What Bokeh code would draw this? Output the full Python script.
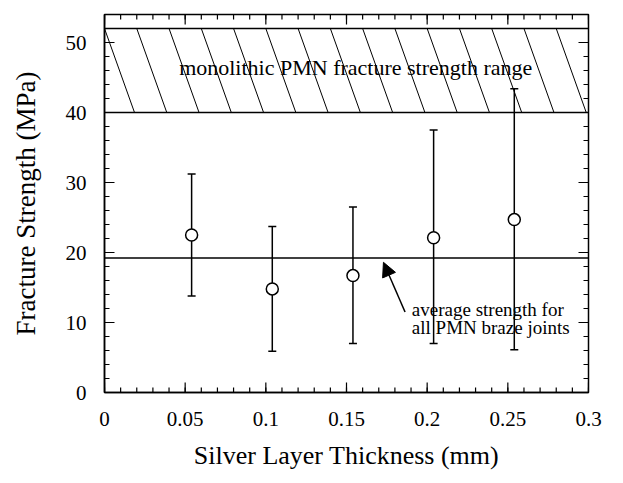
import numpy as np
from bokeh.plotting import figure
from bokeh.models import (Range1d, LinearAxis, Span, Whisker, ColumnDataSource,
                          Arrow, NormalHead, Label, FixedTicker, TeeHead)
from bokeh.core.properties import value
from bokeh.embed import file_html
from bokeh.resources import INLINE

# ---- data ----
thickness = [0.054, 0.104, 0.154, 0.204, 0.254]
strength = [22.5, 14.8, 16.7, 22.1, 24.7]
err_upper = [31.2, 23.7, 26.5, 37.5, 43.4]
err_lower = [13.8, 5.9, 7.0, 7.0, 6.1]
avg_strength = 19.2
mono_low, mono_high = 40.0, 52.0
x_ticks = [0, 0.05, 0.1, 0.15, 0.2, 0.25, 0.3]
y_ticks = [0, 10, 20, 30, 40, 50]
x_minor_step = 0.01
y_minor_step = 2

FONT = "Liberation Serif"
FW, FH = 484, 378
XMAX, YMAX = 0.3, 54

p = figure(frame_width=FW, frame_height=FH, output_backend="svg",
           toolbar_location=None, x_range=Range1d(0, XMAX), y_range=Range1d(0, YMAX),
           min_border_left=104, min_border_right=20, min_border_top=14,
           min_border_bottom=80, x_axis_location=None, y_axis_location=None)
p.background_fill_color = "white"
p.border_fill_color = "white"
p.outline_line_color = "black"
p.outline_line_width = 1.5
p.xgrid.visible = False
p.ygrid.visible = False


def style_axis(ax, ticks):
    ax.ticker = FixedTicker(ticks=ticks)
    ax.major_tick_in = 0
    ax.major_tick_out = 0
    ax.minor_tick_in = 0
    ax.minor_tick_out = 0
    ax.axis_line_color = "black"
    ax.axis_line_width = 1.5
    ax.major_label_text_font = FONT
    ax.major_label_text_font_size = "21px"
    ax.major_label_text_color = "black"
    ax.axis_label_text_font = FONT
    ax.axis_label_text_font_size = "26px"
    ax.axis_label_text_font_style = "normal"
    ax.axis_label_text_color = "black"


xb = LinearAxis(axis_label="Silver Layer Thickness (mm)")
style_axis(xb, x_ticks)
xb.major_label_standoff = 19
xb.axis_label_standoff = 12
xb.major_label_overrides = {0: "0", 0.3: "0.3"}
p.add_layout(xb, "below")

yl = LinearAxis(axis_label="Fracture Strength (MPa)")
style_axis(yl, y_ticks)
yl.major_label_standoff = 18
yl.axis_label_standoff = 22
yl.axis_label_text_font_size = "27px"
p.add_layout(yl, "left")

# ---- tick marks drawn inward on all four sides ----
dx = XMAX / FW   # data units per pixel
dy = YMAX / FH
xmaj = np.array(x_ticks)
xmin_t = np.arange(0, XMAX + 1e-9, x_minor_step)
ymaj = np.array(y_ticks)
ymin_t = np.arange(0, YMAX + 1e-9, y_minor_step)
for pos, L in ((xmaj, 10), (xmin_t, 5)):
    n = len(pos)
    p.segment(x0=pos, y0=[0] * n, x1=pos, y1=[L * dy] * n, line_color="black", line_width=1.2)
    p.segment(x0=pos, y0=[YMAX] * n, x1=pos, y1=[YMAX - L * dy] * n, line_color="black", line_width=1.2)
for pos, L in ((ymaj, 10), (ymin_t, 5)):
    n = len(pos)
    p.segment(x0=[0] * n, y0=pos, x1=[L * dx] * n, y1=pos, line_color="black", line_width=1.2)
    p.segment(x0=[XMAX] * n, y0=pos, x1=[XMAX - L * dx] * n, y1=pos, line_color="black", line_width=1.2)

# monolithic band boundaries
for yv in (mono_low, mono_high):
    p.add_layout(Span(location=yv, dimension="width", line_color="black", line_width=1.5))

# hatch lines in the band
spacing = 0.02
shift = 0.0186
tops = np.arange(0, XMAX, spacing)
p.segment(x0=tops, y0=[mono_high] * len(tops), x1=tops + shift, y1=[mono_low] * len(tops),
          line_color="black", line_width=1.0)

p.text(x=[0.1557], y=[(mono_low + mono_high) / 2 + 0.5],
       text=["monolithic PMN fracture strength range"],
       text_font=value(FONT), text_font_size="22px",
       text_align="center", text_baseline="middle", text_color="black")

# average line
p.add_layout(Span(location=avg_strength, dimension="width", line_color="black", line_width=1.5))

# error bars
src = ColumnDataSource(dict(x=thickness, y=strength, upper=err_upper, lower=err_lower))
w = Whisker(base="x", upper="upper", lower="lower", source=src, line_color="black",
            line_width=1.5,
            upper_head=TeeHead(size=8, line_color="black", line_width=1.5),
            lower_head=TeeHead(size=8, line_color="black", line_width=1.5))
p.add_layout(w)

p.scatter(x="x", y="y", source=src, marker="circle", size=12, fill_color="white",
          line_color="black", line_width=1.5)

# annotation arrow and text
p.add_layout(Arrow(end=NormalHead(size=14, fill_color="black", line_color="black"),
                   x_start=0.1863, y_start=11.5, x_end=0.1729, y_end=18.6,
                   line_color="black", line_width=1.5))
p.add_layout(Label(x=0.1905, y=13.4, text="average strength for\nall PMN braze joints",
                   text_font=FONT, text_font_size="19px", text_color="black",
                   text_baseline="top", text_line_height=0.85))

open("out.html", "w").write(file_html(p, INLINE))
